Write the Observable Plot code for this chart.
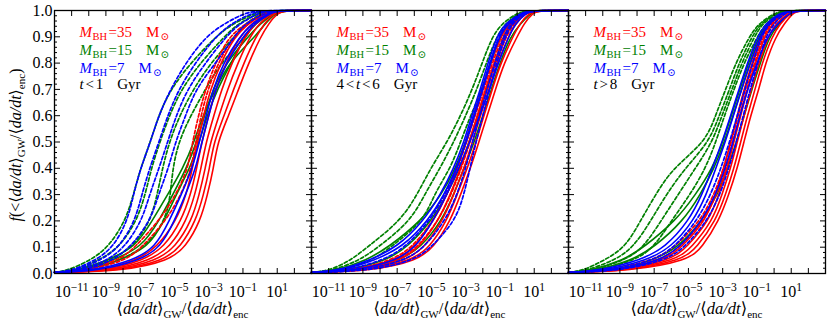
<!DOCTYPE html>
<html>
<head>
<meta charset="utf-8">
<script src="https://cdn.jsdelivr.net/npm/d3@7"></script>
<script src="https://cdn.jsdelivr.net/npm/@observablehq/plot@0.6"></script>
<style>
  body { margin: 0; background: #fff; }
  #chart svg { display: block; }
</style>
</head>
<body>
<div id="chart"></div>
<script>
// ---------------- data ----------------
const panels = ["t<1", "4<t<6", "t>8"];
// cumulative fraction levels at which each curve's log10(x) is read
const fLevels = [0.01, 0.05, 0.1, 0.2, 0.3, 0.4, 0.5, 0.6, 0.7, 0.8, 0.9, 0.95, 0.99, 1.0];
const xMinExp = -12, xMaxExp = 3, fAtLeftEdge = 0.004;

// Panel 1: t < 1 Gyr   (values are log10 of <da/dt>_GW/<da/dt>_enc at fLevels)
const p1RedSolid = [
  [-9.4, -7.2, -6.0, -4.9, -4.3, -3.95, -3.65, -3.3, -2.9, -2.3, -1.5, -0.7, 0.2, 0.9],
  [-9.1, -6.8, -5.6, -4.6, -4.05, -3.7, -3.4, -3.0, -2.6, -2.0, -1.2, -0.5, 0.35, 1.0],
  [-8.8, -6.4, -5.25, -4.3, -3.8, -3.45, -3.15, -2.7, -2.25, -1.65, -0.9, -0.3, 0.5, 1.1],
  [-8.5, -6.0, -4.95, -4.0, -3.55, -3.2, -2.9, -2.4, -1.9, -1.3, -0.6, -0.05, 0.65, 1.2],
  [-8.2, -5.6, -4.65, -3.75, -3.3, -2.95, -2.7, -2.1, -1.55, -0.95, -0.25, 0.25, 0.8, 1.35],
  [-7.9, -5.3, -4.35, -3.48, -3.07, -2.72, -2.48, -1.84, -1.26, -0.67, 0.03, 0.5, 1.0, 1.5]
];
const p1RedDashed = [
  [-10.4, -8.2, -7.3, -5.9, -4.9, -4.2, -3.94, -3.6, -3.19, -2.6, -1.84, -0.85, 0.2, 0.9],
  [-10.1, -7.8, -6.9, -5.5, -4.6, -4.0, -3.75, -3.45, -3.05, -2.45, -1.6, -0.7, 0.3, 1.0]
];
const p1GreenSolid = [
  [-10.8, -8.9, -7.27, -6.3, -5.4, -4.5, -3.85, -3.35, -2.6, -1.84, -0.3, 0.3, 0.9, 1.5],
  [-10.5, -8.6, -6.9, -5.9, -5.1, -4.3, -3.7, -3.25, -2.75, -2.0, -0.7, 0.0, 0.8, 1.3],
  [-10.2, -8.2, -6.5, -5.6, -4.9, -4.1, -3.55, -3.1, -2.5, -1.7, -0.9, -0.3, 0.6, 1.2]
];
const p1GreenDashed = [
  [-11.3, -9.9, -8.85, -7.86, -7.39, -6.98, -6.4, -5.93, -5.23, -4.06, -2.6, -1.6, -0.3, 0.4],
  [-11.0, -9.4, -8.2, -7.2, -6.7, -6.35, -5.85, -5.3, -4.6, -3.5, -2.1, -1.3, -0.1, 0.6],
  [-10.6, -8.8, -7.4, -6.4, -6.0, -5.7, -5.3, -4.7, -3.9, -2.9, -1.5, -0.9, 0.1, 0.8],
  [-10.1, -8.2, -6.69, -5.52, -5.23, -5.1, -4.76, -4.06, -3.19, -2.31, -0.85, -0.4, 0.4, 1.0]
];
const p1BlueSolid = [
  [-9.8, -7.4, -6.1, -5.3, -4.6, -3.95, -3.55, -3.15, -2.75, -2.15, -1.2, -0.5, 0.5, 1.0],
  [-9.5, -7.0, -5.8, -5.0, -4.35, -3.75, -3.4, -3.0, -2.6, -2.0, -1.0, -0.35, 0.6, 1.1]
];
const p1BlueDashed = [
  [-11.0, -9.6, -8.56, -7.74, -7.39, -6.98, -6.4, -5.93, -5.23, -4.35, -3.19, -2.1, -0.9, -0.2],
  [-10.8, -9.3, -8.2, -7.3, -6.9, -6.45, -5.9, -5.4, -4.75, -3.8, -2.6, -1.7, -0.5, 0.2],
  [-10.5, -8.9, -7.9, -6.9, -6.45, -5.9, -5.4, -4.9, -4.25, -3.2, -2.0, -1.2, -0.1, 0.5],
  [-10.2, -8.6, -7.56, -6.4, -5.93, -5.35, -4.94, -4.35, -3.77, -2.6, -1.5, -0.9, 0.3, 0.9]
];

// Panel 2: 4 < t < 6 Gyr
const p2RedSolid = [
  [-9.8, -7.0, -6.0, -4.86, -4.08, -3.5, -3.0, -2.53, -2.04, -1.55, -0.97, -0.5, 0.2, 0.7],
  [-9.5, -6.7, -5.7, -4.6, -3.9, -3.3, -2.8, -2.33, -1.85, -1.35, -0.75, -0.3, 0.35, 0.85],
  [-9.2, -6.4, -5.4, -4.35, -3.7, -3.1, -2.6, -2.14, -1.65, -1.16, -0.5, -0.1, 0.5, 1.0],
  [-8.9, -6.1, -5.1, -4.1, -3.5, -2.9, -2.4, -1.94, -1.45, -0.96, -0.25, 0.15, 0.7, 1.15],
  [-8.5, -5.8, -4.86, -3.89, -3.3, -2.72, -2.23, -1.75, -1.26, -0.77, 0.0, 0.4, 0.9, 1.3]
];
const p2RedDashed = [
  [-9.6, -7.3, -6.1, -4.9, -4.1, -3.45, -2.95, -2.45, -1.95, -1.45, -0.85, -0.4, 0.3, 0.8],
  [-9.3, -6.9, -5.8, -4.6, -3.85, -3.25, -2.75, -2.25, -1.75, -1.25, -0.65, -0.2, 0.45, 0.95]
];
const p2GreenSolid = [
  [-10.6, -8.8, -7.5, -5.6, -4.4, -3.6, -3.0, -2.55, -2.05, -1.6, -1.05, -0.5, 0.3, 0.9],
  [-9.2, -6.8, -5.6, -4.4, -3.7, -3.1, -2.5, -2.0, -1.5, -1.0, -0.4, 0.2, 0.8, 1.2],
  [-10.0, -7.6, -6.4, -5.0, -4.1, -3.35, -2.8, -2.3, -1.8, -1.3, -0.8, -0.3, 0.5, 1.0]
];
const p2GreenDashed = [
  [-11.0, -9.7, -8.75, -6.8, -5.83, -5.05, -4.08, -3.3, -2.62, -2.04, -1.46, -0.9, 0.0, 0.5],
  [-10.8, -9.2, -8.1, -6.2, -5.4, -4.5, -3.7, -3.0, -2.35, -1.8, -1.2, -0.7, 0.1, 0.6],
  [-10.5, -8.4, -7.39, -5.44, -4.86, -3.89, -3.3, -2.72, -2.04, -1.55, -0.97, -0.5, 0.3, 0.8]
];
const p2BlueSolid = [
  [-10.5, -8.6, -7.0, -5.46, -4.47, -3.7, -3.1, -2.65, -2.15, -1.7, -1.2, -0.7, 0.2, 0.8],
  [-10.3, -8.3, -6.7, -5.2, -4.25, -3.55, -2.95, -2.5, -2.0, -1.55, -1.05, -0.55, 0.3, 0.9],
  [-9.5, -7.0, -5.9, -4.9, -4.1, -3.4, -2.75, -2.2, -1.6, -1.1, -0.5, -0.1, 0.5, 1.0]
];
const p2BlueDashed = [
  [-9.0, -6.5, -5.4, -4.2, -3.5, -3.0, -2.6, -2.2, -1.75, -1.3, -0.8, -0.4, 0.3, 0.8],
  [-8.5, -6.0, -5.0, -3.6, -3.1, -2.75, -2.4, -2.0, -1.6, -1.2, -0.7, -0.3, 0.4, 0.9],
  [-10.0, -7.8, -6.5, -5.1, -4.2, -3.5, -3.0, -2.55, -2.05, -1.6, -1.1, -0.6, 0.2, 0.7]
];

// Panel 3: t > 8 Gyr
const p3RedSolid = [
  [-9.6, -6.34, -5.4, -4.0, -3.42, -2.93, -2.54, -2.15, -1.76, -1.28, -0.79, -0.3, 0.5, 1.0],
  [-9.3, -6.0, -5.1, -3.8, -3.22, -2.73, -2.35, -1.95, -1.55, -1.08, -0.57, -0.1, 0.65, 1.1],
  [-9.0, -5.7, -4.8, -3.6, -3.03, -2.54, -2.15, -1.76, -1.33, -0.89, -0.35, 0.1, 0.8, 1.2],
  [-8.7, -5.35, -4.5, -3.41, -2.83, -2.34, -1.95, -1.56, -1.11, -0.7, -0.13, 0.35, 0.95, 1.3],
  [-8.4, -4.98, -4.2, -3.22, -2.64, -2.15, -1.76, -1.37, -0.89, -0.5, 0.09, 0.6, 1.1, 1.4]
];
const p3RedDashed = [
  [-9.8, -7.0, -5.8, -4.3, -3.5, -2.95, -2.5, -2.1, -1.7, -1.25, -0.75, -0.3, 0.5, 1.0],
  [-9.5, -6.6, -5.5, -4.1, -3.35, -2.8, -2.4, -2.0, -1.6, -1.15, -0.65, -0.2, 0.6, 1.1]
];
const p3GreenSolid = [
  [-10.8, -8.8, -7.6, -5.75, -4.58, -3.6, -3.0, -2.5, -2.0, -1.5, -0.9, -0.4, 0.4, 1.0],
  [-10.5, -8.3, -7.0, -5.3, -4.3, -3.5, -2.9, -2.4, -1.9, -1.4, -0.8, -0.3, 0.5, 1.1],
  [-9.5, -7.0, -5.6, -4.2, -3.3, -2.7, -2.2, -1.75, -1.3, -0.8, -0.3, 0.3, 0.9, 1.3]
];
const p3GreenDashed = [
  [-11.2, -9.9, -8.67, -7.8, -6.92, -5.93, -4.0, -3.42, -2.83, -2.24, -1.46, -0.9, 0.0, 0.6],
  [-11.0, -9.3, -8.2, -7.2, -6.3, -5.2, -3.8, -3.2, -2.6, -2.05, -1.3, -0.8, 0.1, 0.7],
  [-10.7, -8.7, -7.6, -6.6, -5.6, -4.6, -3.6, -3.05, -2.45, -1.9, -1.15, -0.7, 0.2, 0.8],
  [-10.3, -8.1, -7.0, -6.0, -4.9, -4.0, -3.4, -2.9, -2.34, -1.76, -0.98, -0.5, 0.3, 0.9]
];
const p3BlueSolid = [
  [-10.3, -7.8, -6.34, -4.98, -4.2, -3.61, -3.03, -2.54, -2.05, -1.56, -0.98, -0.5, 0.3, 0.9],
  [-10.0, -7.4, -6.0, -4.7, -3.95, -3.4, -2.85, -2.38, -1.9, -1.4, -0.85, -0.35, 0.4, 1.0],
  [-9.3, -6.6, -5.5, -4.2, -3.4, -2.85, -2.4, -2.0, -1.55, -1.0, -0.4, 0.2, 0.9, 1.4]
];
const p3BlueDashed = [
  [-9.5, -7.0, -5.8, -4.5, -3.7, -3.1, -2.6, -2.15, -1.7, -1.25, -0.75, -0.3, 0.5, 1.0],
  [-9.0, -6.3, -5.2, -3.9, -3.15, -2.65, -2.2, -1.8, -1.4, -0.95, -0.5, 0.0, 0.6, 1.1]
];

// axis ticks and labels
const xTickExps = d3.range(-12, 4);
const xLabelExps = [-11, -9, -7, -5, -3, -1, 1];
const yMajorTicks = d3.range(0, 11).map(i => i / 10);
const yMinorTicks = d3.range(0, 51).filter(i => i % 5 !== 0).map(i => i / 50);

// legend text
const massValues = ["35", "15", "7"];
const colorNames = ["red", "green", "blue"];
const colorHex = {red: "#ff0000", green: "#008000", blue: "#0000ff"};
const periodParts = [
  [["t", true], ["<", false], ["1", false]],
  [["4", false], ["<", false], ["t", true], ["<", false], ["6", false]],
  [["t", true], [">", false], ["8", false]]
];

// ---------------- build table ----------------
const seriesList = [
  [0, "green", "dashed", p1GreenDashed], [0, "green", "solid", p1GreenSolid],
  [0, "red", "solid", p1RedSolid], [0, "red", "dashed", p1RedDashed],
  [0, "blue", "solid", p1BlueSolid], [0, "blue", "dashed", p1BlueDashed],
  [1, "green", "dashed", p2GreenDashed], [1, "green", "solid", p2GreenSolid],
  [1, "red", "solid", p2RedSolid], [1, "red", "dashed", p2RedDashed],
  [1, "blue", "solid", p2BlueSolid], [1, "blue", "dashed", p2BlueDashed],
  [2, "green", "dashed", p3GreenDashed], [2, "green", "solid", p3GreenSolid],
  [2, "red", "solid", p3RedSolid], [2, "red", "dashed", p3RedDashed],
  [2, "blue", "solid", p3BlueSolid], [2, "blue", "dashed", p3BlueDashed]
];
const rows = [];
seriesList.forEach(([pi, color, style, curves]) => {
  curves.forEach((xs, ci) => {
    const panel = panels[pi];
    const id = `${pi}-${color}-${style}-${ci}`;
    rows.push({panel, color, style, id, x: Math.pow(10, xMinExp), f: fAtLeftEdge});
    xs.forEach((lx, k) => rows.push({panel, color, style, id, x: Math.pow(10, lx), f: fLevels[k]}));
    rows.push({panel, color, style, id, x: Math.pow(10, xMaxExp), f: 1});
  });
});

const lineMarks = [];
for (const color of ["green", "red", "blue"]) {
  for (const style of ["solid", "dashed"]) {
    lineMarks.push(Plot.line(rows.filter(d => d.color === color && d.style === style), {
      fx: "panel", x: "x", y: "f", z: "id",
      stroke: colorHex[color], strokeWidth: style === "dashed" ? 1.7 : 1.6,
      strokeDasharray: style === "dashed" ? "3.5,2.2" : null,
      curve: "basis"
    }));
  }
}

const xTicks = xTickExps.map(e => Math.pow(10, e));
const xLabelTicks = xLabelExps.map(e => Math.pow(10, e));

const FONT = "'Liberation Serif', 'DejaVu Serif', serif";
const W = 831, H = 325, ML = 54, MR = 6, MT = 10, MB = 52;

const plot = Plot.plot({
  width: W, height: H,
  marginLeft: ML, marginRight: MR, marginTop: MT, marginBottom: MB,
  style: {fontFamily: FONT, fontSize: "16px", background: "white", color: "black"},
  fx: {domain: panels, padding: 0, axis: null, label: null},
  x: {type: "log", domain: [Math.pow(10, xMinExp), Math.pow(10, xMaxExp)], label: null},
  y: {domain: [0, 1], label: null},
  marks: [
    ...lineMarks,
    Plot.axisX(xTicks, {anchor: "bottom", tickSize: -5, fill: "none", label: null}),
    Plot.axisX(xTicks, {anchor: "top", tickSize: -5, fill: "none", label: null}),
    Plot.axisX(xLabelTicks, {anchor: "bottom", tickSize: 0, tickPadding: 12, label: null,
      tickFormat: d => "10^" + Math.round(Math.log10(d))}),
    Plot.axisY(yMajorTicks, {anchor: "left", tickSize: -6, fill: "none", facetAnchor: null, label: null}),
    Plot.axisY(yMinorTicks, {anchor: "left", tickSize: -3, fill: "none", facetAnchor: null, label: null}),
    Plot.axisY(yMajorTicks, {anchor: "right", tickSize: -6, fill: "none", facetAnchor: null, label: null}),
    Plot.axisY(yMinorTicks, {anchor: "right", tickSize: -3, fill: "none", facetAnchor: null, label: null}),
    Plot.axisY(yMajorTicks, {anchor: "left", tickSize: 0, tickPadding: 2, label: null,
      tickFormat: d3.format(".1f")}),
    Plot.frame({stroke: "black", strokeWidth: 1.3})
  ]
});
document.getElementById("chart").appendChild(plot);

// ---------------- text post-processing ----------------
const svg = d3.select(plot.tagName.toLowerCase() === "svg" ? plot : plot.querySelector("svg"));

// superscripts for log tick labels
svg.selectAll("text").filter(function () { return this.textContent.includes("^"); })
  .each(function () {
    const [base, exp] = this.textContent.split("^");
    const t = d3.select(this);
    t.text(null);
    t.append("tspan").text(base);
    t.append("tspan").attr("font-size", "0.72em").attr("dy", "-0.55em").text(exp.replace("-", "\u2212"));
  });

const panelW = (W - ML - MR) / panels.length;
const panelLeft = (i) => ML + i * panelW;

const layer = svg.append("g").attr("font-family", FONT);

function mathRatio(t, closeParen) {
  t.append("tspan").text("\u27E8");
  t.append("tspan").attr("font-style", "italic").text("da/dt");
  t.append("tspan").text("\u27E9");
  t.append("tspan").attr("font-size", 11).attr("dy", 3.5).text("GW");
  t.append("tspan").attr("dy", -3.5).text("/\u27E8");
  t.append("tspan").attr("font-style", "italic").text("da/dt");
  t.append("tspan").text("\u27E9");
  t.append("tspan").attr("font-size", 11).attr("dy", 3.5).text("enc");
  if (closeParen) t.append("tspan").attr("dy", -3.5).text(")");
}

panels.forEach((p, i) => {
  const left = panelLeft(i);
  // x label
  const xl = layer.append("text").attr("x", left + panelW / 2).attr("y", 314)
    .attr("text-anchor", "middle").attr("font-size", 16.5).attr("fill", "black");
  mathRatio(xl, false);

  // legend
  const lx = left + 25.5;
  massValues.forEach((m, k) => {
    const t = layer.append("text").attr("x", lx).attr("y", 37 + k * 18.2)
      .attr("text-anchor", "start")
      .attr("font-size", 15).attr("fill", colorHex[colorNames[k]]);
    t.append("tspan").attr("font-style", "italic").text("M");
    t.append("tspan").attr("font-size", 10.5).attr("dy", 3).attr("dx", 0.5).text("BH");
    t.append("tspan").attr("dy", -3).attr("dx", 1.5).text("=" + m);
    t.append("tspan").attr("dx", 14).text("M");
    t.append("tspan").attr("font-size", 10.5).attr("dy", 3).attr("dx", 1).text("\u2299");
  });
  const pt = layer.append("text").attr("x", lx).attr("y", 88.5)
    .attr("text-anchor", "start")
    .attr("font-size", 15).attr("fill", "black");
  periodParts[i].forEach(([s, it], k) => {
    const sp = pt.append("tspan").text(s);
    if (it) sp.attr("font-style", "italic");
    if (k > 0) sp.attr("dx", 1.8);
  });
  pt.append("tspan").attr("dx", 14).text("Gyr");
});

// y label
const yl = layer.append("text").attr("transform", "translate(21,145) rotate(-90)")
  .attr("text-anchor", "middle").attr("font-size", 16).attr("fill", "black");
yl.append("tspan").attr("font-style", "italic").text("f");
yl.append("tspan").text("(<");
mathRatio(yl, true);
</script>
</body>
</html>
